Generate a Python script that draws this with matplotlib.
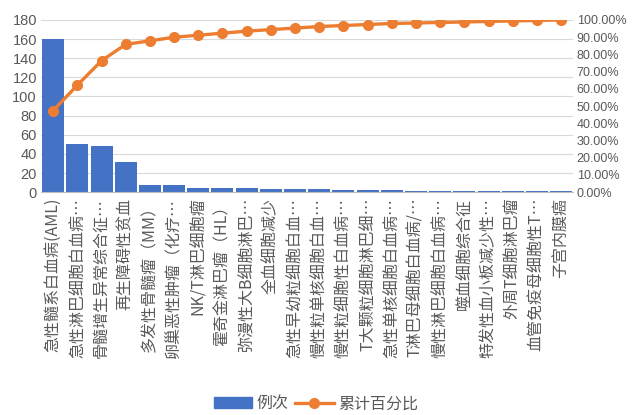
import matplotlib
matplotlib.use("Agg")
import matplotlib.pyplot as plt
from matplotlib.ticker import PercentFormatter
from matplotlib.lines import Line2D
from matplotlib.patches import Patch

plt.rcParams['font.family'] = ['Noto Sans CJK SC', 'DejaVu Sans']

categories = [
    "急性髓系白血病(AML)", "急性淋巴细胞白血病…", "骨髓增生异常综合征…", "再生障碍性贫血",
    "多发性骨髓瘤（MM）", "卵巢恶性肿瘤（化疗…", "NK/T淋巴细胞瘤", "霍奇金淋巴瘤（HL）",
    "弥漫性大B细胞淋巴…", "全血细胞减少", "急性早幼粒细胞白血…", "慢性粒单核细胞白血…",
    "慢性粒细胞性白血病…", "T大颗粒细胞淋巴细…", "急性单核细胞白血病…", "T淋巴母细胞白血病/…",
    "慢性淋巴细胞白血病…", "噬血细胞综合征", "特发性血小板减少性…", "外周T细胞淋巴瘤",
    "血管免疫母细胞性T…", "子宫内膜癌",
]
counts = [160, 50, 48, 32, 7, 7, 4, 4, 4, 3, 3, 3, 2, 2, 2, 1, 1, 1, 1, 1, 1, 1]
left_ticks = [0, 20, 40, 60, 80, 100, 120, 140, 160, 180]
right_ticks = [0, 10, 20, 30, 40, 50, 60, 70, 80, 90, 100]

total = sum(counts)
cum = []
s = 0
for c in counts:
    s += c
    cum.append(s / total * 100)

BLUE = "#4472C4"
ORANGE = "#ED7D31"
GREY = "#595959"
NUMFONT = ["Liberation Sans", "DejaVu Sans"]

fig = plt.figure(figsize=(6.32, 4.15), dpi=100)
ax = fig.add_axes([0.065, 0.537, 0.842, 0.415])
x = list(range(len(categories)))
ax.bar(x, counts, width=0.91, color=BLUE, zorder=2)
ax.set_xlim(-0.5, len(categories) - 0.5)
ax.set_ylim(0, 180)
ax.set_yticks(left_ticks)
ax.yaxis.grid(True, color="#d9d9d9", linewidth=0.8, zorder=0)
ax.set_axisbelow(True)
for sp in ["top", "right", "left"]:
    ax.spines[sp].set_visible(False)
ax.spines["bottom"].set_color("#bfbfbf")
ax.tick_params(axis="y", length=0, labelsize=10.5, labelcolor=GREY, pad=3)
ax.tick_params(axis="x", length=0, pad=4)
ax.set_xticks(x)
ax.set_xticklabels(categories, rotation=90, fontsize=11.5, color=GREY)
for lab in ax.get_yticklabels():
    lab.set_fontfamily(NUMFONT)

ax2 = ax.twinx()
ax2.plot(x, cum, color=ORANGE, linewidth=2.4, marker="o", markersize=7, zorder=3)
ax2.set_ylim(0, 100)
ax2.set_yticks(right_ticks)
ax2.yaxis.set_major_formatter(PercentFormatter(decimals=2))
for sp in ["top", "right", "left", "bottom"]:
    ax2.spines[sp].set_visible(False)
ax2.tick_params(axis="y", length=0, labelsize=9, labelcolor=GREY, pad=2.5)
for lab in ax2.get_yticklabels():
    lab.set_fontfamily(NUMFONT)

handles = [Patch(color=BLUE, label="例次"),
           Line2D([0], [0], color=ORANGE, linewidth=2.4, marker="o", markersize=7, label="累计百分比")]
fig.legend(handles=handles, loc="center", bbox_to_anchor=(0.5, 0.027), ncol=2, frameon=False,
           fontsize=11.5, labelcolor=GREY, handlelength=2.4, columnspacing=0.4, handletextpad=0.3)

fig.savefig("out.png", dpi=100)
